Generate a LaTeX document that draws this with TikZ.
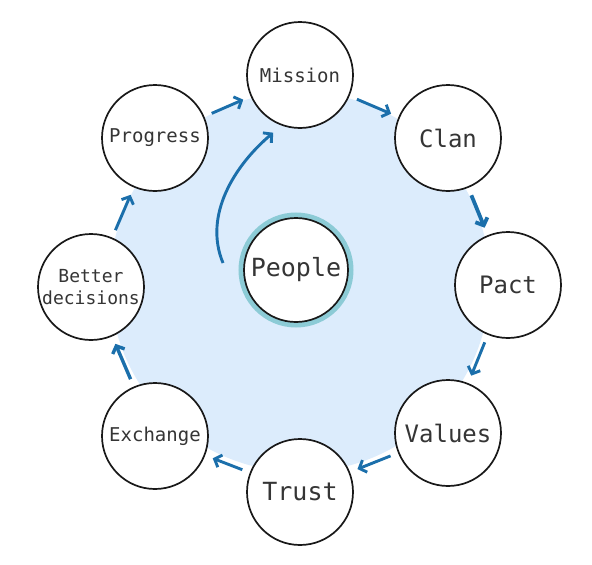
\documentclass[tikz,border=0pt]{standalone}
\usepackage{fontspec}
\setmonofont{DejaVu Sans Mono}
\usetikzlibrary{arrows.meta}
\definecolor{ringfill}{HTML}{DCECFC}
\definecolor{arrowblue}{HTML}{1B6FAB}
\definecolor{peoplering}{HTML}{8CCBD6}
\definecolor{labelgray}{HTML}{353535}
\begin{document}
\begin{tikzpicture}[x=1pt,y=-1pt]
	      \tikzstyle{every node}=[text=labelgray]
	      \tikzstyle{stage}=[circle,draw=black!90,line width=1.7pt,fill=white,minimum size=106pt,inner sep=0pt,align=center]
	      \tikzstyle{flow}=[line width=2.9pt,draw=arrowblue,-{Straight Barb[length=6pt,width=13pt]},shorten <=8pt,shorten >=8pt]
	      \useasboundingbox (0,0) rectangle (592,565);
	      \fill[ringfill](300,282) circle (190pt);
	      \node[stage,font=\ttfamily\fontsize{19}{22}\selectfont](mis) at (300,75){Mission};
	      \node[stage,font=\ttfamily\fontsize{24}{28}\selectfont](clan) at (448,138){Clan};
	      \node[stage,font=\ttfamily\fontsize{24}{28}\selectfont](pact) at (508,285){Pact};
	      \node[stage,font=\ttfamily\fontsize{24}{28}\selectfont](val) at (448,433){Values};
	      \node[stage,font=\ttfamily\fontsize{25}{28}\selectfont](trust) at (300,492){Trust};
	      \node[stage,font=\ttfamily\fontsize{19}{22}\selectfont](exch) at (155,436){Exchange};
	      \node[stage,font=\ttfamily\fontsize{18}{22}\selectfont](dec) at (91,287){Better\\decisions};
	      \node[stage,font=\ttfamily\fontsize{19}{22}\selectfont](prog) at (155,138){Progress};
	      \node[stage,minimum size=104pt,preaction={draw=peoplering,line width=11pt},font=\ttfamily\fontsize{25}{28}\selectfont](ppl) at (296,270){People};
	      \draw[flow](prog)--(mis);
	      \draw[flow](mis)--(clan);
	      \draw[flow,line width=3.8pt](clan)--(pact);
	      \draw[flow](pact)--(val);
	      \draw[flow](val)--(trust);
	      \draw[flow](trust)--(exch);
	      \draw[flow,line width=3.4pt](exch)--(dec);
	      \draw[flow](dec)--(prog);
	      \coordinate (rise) at (223,263);
	      \draw[flow,shorten <=0pt,shorten >=11pt](rise) .. controls (203,215) and (235,165) .. (mis.250);
	    \end{tikzpicture}
\end{document}
